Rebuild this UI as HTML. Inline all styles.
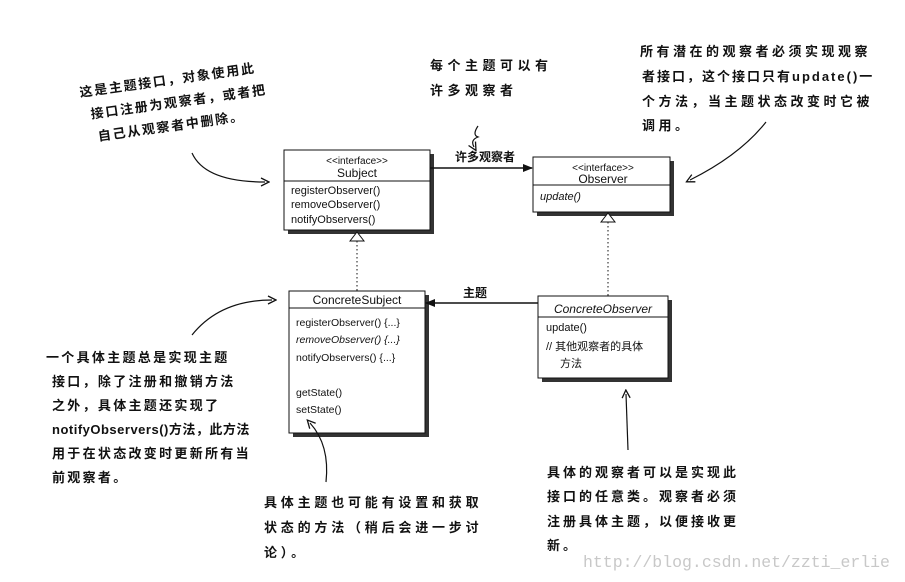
<!DOCTYPE html>
<html><head><meta charset="utf-8"><style>
html,body{margin:0;padding:0;background:#fff;}
svg{display:block;}
.u{font-family:"Liberation Sans","Noto Sans CJK SC",sans-serif;fill:#111;}
.h{font-family:"Liberation Sans","Noto Sans CJK SC",sans-serif;fill:#111;font-size:13px;font-weight:bold;}
</style></head><body>
<svg width="905" height="582" viewBox="0 0 905 582" xmlns="http://www.w3.org/2000/svg">
<defs>
<marker id="ah" markerWidth="10" markerHeight="8" refX="9" refY="4" orient="auto" markerUnits="userSpaceOnUse"><path d="M0,0 L10,4 L0,8 z" fill="#111"/></marker>
<marker id="oa" markerWidth="10" markerHeight="10" refX="5" refY="5" orient="auto" markerUnits="userSpaceOnUse"><path d="M1,1 L9,5 L1,9" fill="none" stroke="#111" stroke-width="1.3"/></marker>
</defs>
<rect width="905" height="582" fill="#fff"/>

<!-- Subject -->
<rect x="288" y="154" width="146" height="80" fill="#333"/>
<rect x="284" y="150" width="146" height="80" fill="#fff" stroke="#111" stroke-width="1"/>
<line x1="284" y1="181" x2="430" y2="181" stroke="#111"/>
<text class="u" x="357" y="164" font-size="10" text-anchor="middle">&lt;&lt;interface&gt;&gt;</text>
<text class="u" x="357" y="177" font-size="12" text-anchor="middle">Subject</text>
<text class="u" x="291" y="194" font-size="11">registerObserver()</text>
<text class="u" x="291" y="208" font-size="11">removeObserver()</text>
<text class="u" x="291" y="223" font-size="11">notifyObservers()</text>

<!-- Observer -->
<rect x="537" y="161" width="137" height="55" fill="#333"/>
<rect x="533" y="157" width="137" height="55" fill="#fff" stroke="#111"/>
<line x1="533" y1="185" x2="670" y2="185" stroke="#111"/>
<text class="u" x="603" y="171" font-size="10" text-anchor="middle">&lt;&lt;interface&gt;&gt;</text>
<text class="u" x="603" y="183" font-size="12" text-anchor="middle">Observer</text>
<text class="u" x="540" y="200" font-size="11" font-style="italic">update()</text>

<!-- ConcreteSubject -->
<rect x="293" y="295" width="136" height="142" fill="#333"/>
<rect x="289" y="291" width="136" height="142" fill="#fff" stroke="#111"/>
<line x1="289" y1="308" x2="425" y2="308" stroke="#111"/>
<text class="u" x="357" y="304" font-size="12" text-anchor="middle">ConcreteSubject</text>
<text class="u" x="296" y="326" font-size="10.5">registerObserver() {...}</text>
<text class="u" x="296" y="343" font-size="10.5" font-style="italic">removeObserver() {...}</text>
<text class="u" x="296" y="361" font-size="10.5">notifyObservers() {...}</text>
<text class="u" x="296" y="396" font-size="10.5">getState()</text>
<text class="u" x="296" y="413" font-size="10.5">setState()</text>

<!-- ConcreteObserver -->
<rect x="542" y="300" width="130" height="82" fill="#333"/>
<rect x="538" y="296" width="130" height="82" fill="#fff" stroke="#111"/>
<line x1="538" y1="317" x2="668" y2="317" stroke="#111"/>
<text class="u" x="603" y="313" font-size="12" font-style="italic" text-anchor="middle">ConcreteObserver</text>
<text class="u" x="546" y="331" font-size="11">update()</text>
<text class="u" x="546" y="350" font-size="11">// 其他观察者的具体</text>
<text class="u" x="560" y="367" font-size="11">方法</text>

<!-- connectors -->
<line x1="430" y1="168" x2="532" y2="168" stroke="#111" stroke-width="1.5" marker-end="url(#ah)"/>
<text class="u" x="485" y="161" font-size="12" font-weight="bold" text-anchor="middle">许多观察者</text>
<line x1="538" y1="303" x2="426" y2="303" stroke="#111" stroke-width="1.5" marker-end="url(#ah)"/>
<text class="u" x="475" y="297" font-size="12" font-weight="bold" text-anchor="middle">主题</text>
<path d="M350,241 L357,232 L364,241 z" fill="#fff" stroke="#111"/>
<line x1="357" y1="241" x2="357" y2="291" stroke="#111" stroke-dasharray="1.5,2.5"/>
<path d="M601,222 L608,213 L615,222 z" fill="#fff" stroke="#111"/>
<line x1="608" y1="222" x2="608" y2="296" stroke="#111" stroke-dasharray="1.5,2.5"/>

<!-- annotation arrows -->
<path d="M192,153 Q205,182 265,182" fill="none" stroke="#111" stroke-width="1.2" marker-end="url(#oa)"/>
<path d="M478,126 Q472,135 478,137 Q470,140 474,147" fill="none" stroke="#111" stroke-width="1.2" marker-end="url(#oa)"/>
<path d="M766,122 Q740,155 690,180" fill="none" stroke="#111" stroke-width="1.2" marker-end="url(#oa)"/>
<path d="M192,335 Q220,300 272,300" fill="none" stroke="#111" stroke-width="1.2" marker-end="url(#oa)"/>
<path d="M326,482 Q330,445 310,423" fill="none" stroke="#111" stroke-width="1.2" marker-end="url(#oa)"/>
<path d="M628,450 L626,394" fill="none" stroke="#111" stroke-width="1.2" marker-end="url(#oa)"/>

<!-- annotations -->
<g transform="rotate(-8 80 95)" letter-spacing="1.8">
<text class="h" x="80" y="97">这是主题接口，对象使用此</text>
<text class="h" x="88" y="120">接口注册为观察者，或者把</text>
<text class="h" x="92" y="143">自己从观察者中删除。</text>
</g>
<g letter-spacing="4.5">
<text class="h" x="430" y="70">每个主题可以有</text>
<text class="h" x="430" y="95">许多观察者</text>
</g>
<g letter-spacing="3.5">
<text class="h" x="640" y="56">所有潜在的观察者必须实现观察</text>
<text class="h" x="642" y="81" letter-spacing="2">者接口，这个接口只有update()一</text>
<text class="h" x="642" y="106">个方法，当主题状态改变时它被</text>
<text class="h" x="642" y="130">调用。</text>
</g>
<g letter-spacing="2.3">
<text class="h" x="46" y="362">一个具体主题总是实现主题</text>
<text class="h" x="52" y="386">接口，除了注册和撤销方法</text>
<text class="h" x="52" y="410">之外，具体主题还实现了</text>
<text class="h" x="52" y="434" letter-spacing="0.5">notifyObservers()方法，此方法</text>
<text class="h" x="52" y="458">用于在状态改变时更新所有当</text>
<text class="h" x="52" y="482">前观察者。</text>
</g>
<g letter-spacing="3.8">
<text class="h" x="264" y="507">具体主题也可能有设置和获取</text>
<text class="h" x="264" y="532">状态的方法（稍后会进一步讨</text>
<text class="h" x="264" y="557">论）。</text>
</g>
<g letter-spacing="3">
<text class="h" x="547" y="477">具体的观察者可以是实现此</text>
<text class="h" x="547" y="501">接口的任意类。观察者必须</text>
<text class="h" x="547" y="526">注册具体主题，以便接收更</text>
<text class="h" x="547" y="550">新。</text>
</g>
<text x="583" y="567" font-family="Liberation Mono,monospace" font-size="16.5" fill="#c8c8c8">http://blog.csdn.net/zzti_erlie</text>
</svg>
</body></html>
